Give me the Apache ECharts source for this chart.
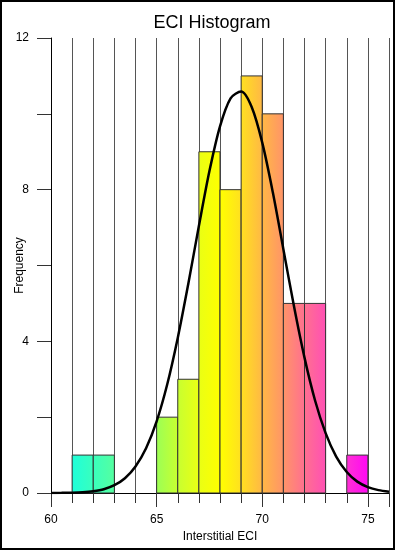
<!DOCTYPE html>
<html>
<head>
<meta charset="utf-8">
<script src="https://cdn.jsdelivr.net/npm/echarts@6/dist/echarts.min.js"></script>
<style>
html,body{margin:0;padding:0;background:#fff;}
#chart{width:395px;height:550px;}
</style>
</head>
<body>
<div id="chart"></div>
<script>
// ---- data ----
const binStarts = [61, 62, 63, 64, 65, 66, 67, 68, 69, 70, 71, 72, 73, 74];
const binWidth = 1;
const counts    = [1, 1, 0, 0, 2, 3, 9, 8, 11, 10, 5, 5, 0, 1];
const curveX = [60, 60.5, 61, 61.5, 62, 62.5, 63, 63.5, 64, 64.5, 65, 65.5, 66, 66.5, 67, 67.5, 68, 68.5, 69, 69.5, 70, 70.5, 71, 71.5, 72, 72.5, 73, 73.5, 74, 74.5, 75, 75.5, 76];
const curveY = [0.001, 0.004, 0.009, 0.021, 0.048, 0.10, 0.205, 0.39, 0.70, 1.18, 1.89, 2.86, 4.09, 5.52, 7.04, 8.49, 9.67, 10.41, 10.59, 10.18, 9.24, 7.93, 6.43, 4.93, 3.57, 2.44, 1.58, 0.96, 0.555, 0.30, 0.156, 0.076, 0.035];
const xLabels = [60, 65, 70, 75];
const yLabels = [0, 4, 8, 12];

// ---- style ----
const gradValues = [61, 63, 65, 66, 67, 68, 69, 70, 71, 72, 73, 74, 75];
const gradColors = ['#1effda', '#55ffa0', '#9cff55', '#c8ff30', '#eaff14', '#ffff00', '#ffe020', '#ffb845', '#ff9468', '#ff7090', '#ff50b4', '#ff30d4', '#ff08f4'];
const FONT = 'Liberation Sans, Arial, sans-serif';

const chart = echarts.init(document.getElementById('chart'), null, {renderer: 'canvas'});

const barData = binStarts.map((s, i) => [s, s + binWidth, counts[i]]);

const option = {
  animation: false,
  backgroundColor: '#fff',
  title: {
    text: 'ECI Histogram',
    left: 207, top: 9, textAlign: 'center',
    textStyle: {fontFamily: FONT, fontSize: 18, fontWeight: 'normal', color: '#000'}
  },
  grid: {left: 51, right: 6, top: 38, bottom: 57, containLabel: false, outerBoundsMode: 'none'},
  xAxis: [{
    type: 'value', min: 60, max: 76, interval: 1,
    axisLine: {show: true, onZero: false, lineStyle: {color: '#000', width: 1}},
    axisTick: {show: true, length: 10, lineStyle: {color: '#333', width: 1}},
    axisLabel: {show: false},
    splitLine: {show: true, lineStyle: {color: '#555', width: 1}}
  }, {
    type: 'value', min: 60, max: 76, interval: 5, position: 'bottom',
    axisLine: {show: false},
    axisTick: {show: true, length: 14, lineStyle: {color: '#333', width: 1}},
    axisLabel: {show: true, margin: 21, fontFamily: FONT, fontSize: 12, color: '#000',
      formatter: v => xLabels.indexOf(v) >= 0 ? String(v) : ''},
    splitLine: {show: false},
    name: 'Interstitial ECI', nameLocation: 'middle', nameGap: 38, nameMoveOverlap: false,
    nameTextStyle: {fontFamily: FONT, fontSize: 12, color: '#000'}
  }],
  yAxis: {
    type: 'value', min: 0, max: 12, interval: 2,
    axisLine: {show: true, lineStyle: {color: '#000', width: 1}},
    axisTick: {show: true, length: 14, lineStyle: {color: '#333', width: 1}},
    axisLabel: {margin: 22, fontFamily: FONT, fontSize: 12, color: '#000',
      formatter: v => yLabels.indexOf(v) >= 0 ? String(v) : ''},
    splitLine: {show: false},
    name: 'Frequency', nameLocation: 'middle', nameGap: 25, nameRotate: 90, nameMoveOverlap: false,
    nameTextStyle: {fontFamily: FONT, fontSize: 12, color: '#000'}
  },
  graphic: [{
    type: 'rect', shape: {x: 1, y: 1, width: 393, height: 548},
    style: {fill: 'none', stroke: '#000', lineWidth: 2}, z: 100
  }],
  series: [{
    type: 'custom',
    xAxisIndex: 0,
    data: barData,
    renderItem: function (params, api) {
      const c = api.value(2);
      if (!c) return null;
      const p0 = api.coord([api.value(0), c]);
      const p1 = api.coord([api.value(1), 0]);
      const gx0 = api.coord([gradValues[0], 0])[0];
      const gx1 = api.coord([gradValues[gradValues.length - 1], 0])[0];
      const span = gradValues[gradValues.length - 1] - gradValues[0];
      const stops = gradValues.map((v, i) => ({offset: (v - gradValues[0]) / span, color: gradColors[i]}));
      return {
        type: 'rect',
        shape: {x: p0[0], y: p0[1], width: p1[0] - p0[0], height: p1[1] - p0[1]},
        style: {
          fill: new echarts.graphic.LinearGradient(gx0, 0, gx1, 0, stops, true),
          stroke: '#333', lineWidth: 1
        }
      };
    },
    z: 3
  }, {
    type: 'line',
    xAxisIndex: 0,
    data: curveX.map((x, i) => [x, curveY[i]]),
    smooth: 0.3,
    showSymbol: false,
    lineStyle: {color: '#000', width: 2.5},
    z: 5
  }]
};
chart.setOption(option);
</script>
</body>
</html>
